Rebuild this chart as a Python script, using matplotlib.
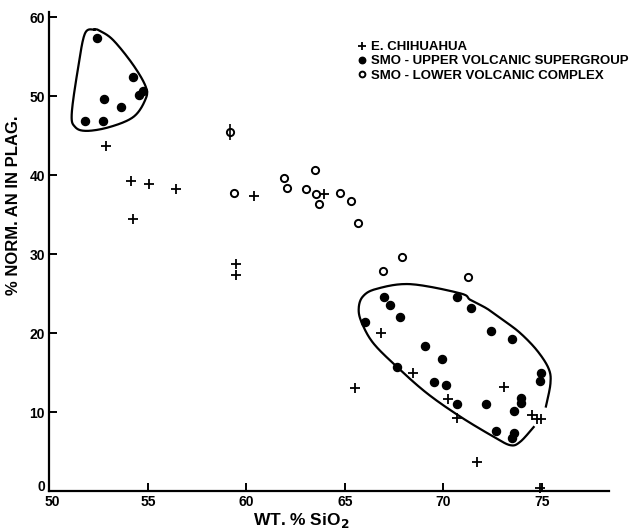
import numpy as np
import matplotlib.pyplot as plt
import matplotlib.transforms as mtransforms

"""
% normative An in plagioclase vs wt. % SiO2
E. Chihuahua vs Sierra Madre Occidental volcanic groups
"""

# E. Chihuahua (+)
chih_x = [52.88, 54.13, 55.06, 56.42, 54.24, 60.38, 59.47, 59.47, 63.95, 65.5,
          66.83, 68.47, 70.21, 70.69, 73.05, 71.71, 74.5, 74.75, 74.96, 74.9]
chih_y = [43.7, 39.2, 38.9, 38.3, 34.4, 37.3, 28.8, 27.3, 37.6, 13.0,
          20.0, 14.9, 11.7, 9.2, 13.2, 3.7, 9.6, 9.1, 9.1, 0.4]

# SMO upper volcanic supergroup (filled)
upper_x = [52.41, 54.24, 54.57, 54.74, 52.76, 53.66, 51.81, 52.73,
           66.03, 67.0, 67.27, 67.81, 67.62, 69.07, 69.91, 69.52, 70.15, 70.71,
           71.4, 72.42, 73.48, 74.97, 74.89, 73.94, 73.94, 73.6, 72.17, 70.71,
           72.68, 73.6, 73.48]
upper_y = [57.4, 52.4, 50.2, 50.7, 49.7, 48.6, 46.9, 46.8,
           21.4, 24.6, 23.6, 22.0, 15.7, 18.4, 16.7, 13.8, 13.4, 24.6,
           23.2, 20.3, 19.2, 14.9, 13.9, 11.8, 11.1, 10.1, 11.0, 11.0,
           7.6, 7.4, 6.7]

# SMO lower volcanic complex (open)
lower_x = [59.18, 59.35, 61.9, 62.04, 63.02, 63.49, 63.53, 63.7, 64.73, 65.29,
           65.69, 66.93, 67.91, 71.25]
lower_y = [45.5, 37.8, 39.6, 38.4, 38.2, 40.7, 37.6, 36.3, 37.8, 36.7,
           33.9, 27.9, 29.6, 27.1]

# hand drawn enclosures
left_loop_x = [52.29, 52.57, 53.25, 54.27, 54.91, 54.86, 54.27, 53.08, 51.90,
               51.31, 51.14, 51.47, 51.81]
left_loop_y = [58.44, 58.27, 57.09, 53.92, 51.1, 49.49, 47.38, 46.11, 45.61,
               46.11, 47.81, 53.71, 57.94]
right_loop_x = [75.2, 75.43, 75.34, 74.75, 73.9, 73.06, 72.21, 71.37, 70.86,
                68.32, 66.6, 65.9, 65.7, 65.87, 66.45, 67.64, 69.17, 70.86,
                72.55, 73.4, 73.9, 74.58]
right_loop_y = [10.7, 13.6, 15.5, 17.8, 20.0, 21.6, 23.1, 24.2, 25.03,
                26.2, 25.6, 24.6, 23.0, 21.23, 18.7, 15.73, 12.37, 9.41,
                6.87, 5.8, 6.24, 8.1]

xticks = [50, 55, 60, 65, 70, 75]
yticks = [0, 10, 20, 30, 40, 50, 60]


def smooth(xs, ys, closed, n=24):
    p = np.column_stack([xs, ys])
    if closed:
        p = np.vstack([p[-1], p, p[0], p[1]])
    else:
        p = np.vstack([p[0], p, p[-1]])
    t = np.linspace(0, 1, n, endpoint=False)[:, None]
    out = []
    for i in range(1, len(p) - 2):
        p0, p1, p2, p3 = p[i - 1], p[i], p[i + 1], p[i + 2]
        out.append(0.5 * (2 * p1 + (-p0 + p2) * t
                          + (2 * p0 - 5 * p1 + 4 * p2 - p3) * t ** 2
                          + (-p0 + 3 * p1 - 3 * p2 + p3) * t ** 3))
    out.append(p[-2][None])
    return np.vstack(out)


plt.rcParams['font.family'] = ['Liberation Sans', 'DejaVu Sans']
plt.rcParams['font.weight'] = 'bold'

fig = plt.figure(figsize=(6.4, 5.31), dpi=100)
ax = fig.add_axes([0.077, 0.0753, 0.8745, 0.9026])

ax.plot(chih_x, chih_y, linestyle='none', marker='+', ms=7, mew=1.3,
        color='black', clip_on=False, label='E. CHIHUAHUA')
ax.plot(upper_x, upper_y, linestyle='none', marker='o', ms=5.8,
        color='black', label='SMO - UPPER VOLCANIC SUPERGROUP')
ax.plot(lower_x, lower_y, linestyle='none', marker='o', ms=5.2, mew=1.4,
        mfc='white', mec='black', label='SMO - LOWER VOLCANIC COMPLEX')
ax.plot(lower_x[:1], lower_y[:1], linestyle='none', marker='|', ms=11,
        mew=1.2, color='black')

c = smooth(left_loop_x, left_loop_y, True)
ax.plot(c[:, 0], c[:, 1], color='black', lw=1.6)
c = smooth(right_loop_x, right_loop_y, False)
ax.plot(c[:, 0], c[:, 1], color='black', lw=1.6)

ax.set_xlim(50, 78.4)
ax.set_ylim(0, 60.7)
ax.set_xticks(xticks)
ax.set_yticks(yticks)
for s in ['top', 'right']:
    ax.spines[s].set_visible(False)
for s in ['left', 'bottom']:
    ax.spines[s].set_linewidth(1.6)
ax.tick_params(direction='in', length=6, width=1.4, labelsize=10, pad=3)

# nudge corner labels apart like the original lettering
ax.get_yticklabels()[0].set_transform(
    ax.get_yticklabels()[0].get_transform()
    + mtransforms.ScaledTranslation(0, 4 / 72, fig.dpi_scale_trans))
ax.get_xticklabels()[0].set_transform(
    ax.get_xticklabels()[0].get_transform()
    + mtransforms.ScaledTranslation(2 / 72, 0, fig.dpi_scale_trans))

leg = ax.legend(loc='upper left', bbox_to_anchor=(0.543, 0.95), frameon=False,
                handlelength=0.6, handletextpad=0.35, labelspacing=0.15,
                borderaxespad=0, fontsize=9.5, markerscale=0.8)

fig.text(0.021, 1 - 205 / 531, '% NORM. AN IN PLAG.', rotation=90,
         ha='center', va='center', fontsize=12, fontweight='bold')
fig.text(301 / 640, 1 - 521 / 531, 'WT. % SiO$_2$', ha='center', va='center',
         fontsize=12.5, fontweight='bold')

plt.savefig('out.png', dpi=100)
